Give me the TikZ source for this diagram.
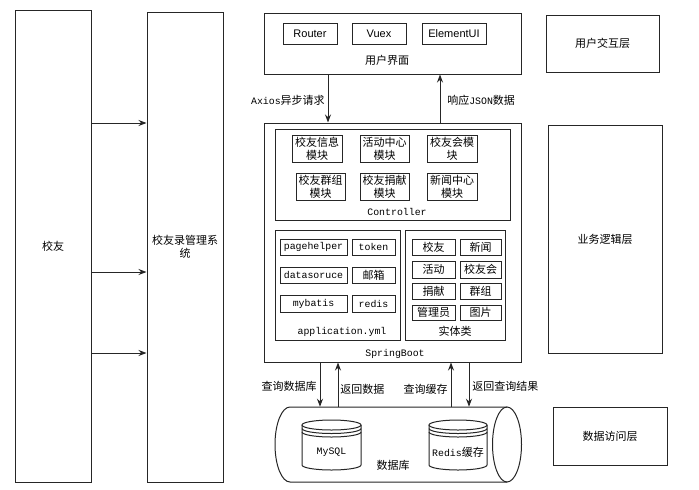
\documentclass[tikz,border=0pt]{standalone}
\usepackage{fontspec}
\setmainfont{Noto Sans CJK SC}
\newfontfamily\lsans{Liberation Sans}
\newfontfamily\monof{Liberation Mono}
\usetikzlibrary{arrows.meta}
\newcommand\fs{\fontsize{8.25}{10}\selectfont}
\newcommand\ms{\monof\fontsize{7.4}{9}\selectfont}
\newcommand\bx[7][]{\node[boxst,#1,minimum width={(#5-#3)*0.75pt},minimum height={(#6-#4)*0.75pt}] (#2) at ({(#3+#5)/2},{(#4+#6)/2}) {#7};}
\newcommand\smallcyl[3]{%
  \draw[linest] (#2-#3/2,425) -- (#2-#3/2,465) arc[start angle=180,end angle=0,x radius=#3/2,y radius=5] -- (#2+#3/2,425);
  \draw[linest] (#2,425) ellipse[x radius=#3/2,y radius=5];
  \draw[linest] (#2-#3/2,428.5) arc[start angle=180,end angle=0,x radius=#3/2,y radius=5];
  \draw[linest] (#2-#3/2,432) arc[start angle=180,end angle=0,x radius=#3/2,y radius=5];
  \node[inner sep=0pt,minimum width={#3*0.75pt},minimum height={50*0.75pt}] (#1) at (#2,446) {};
}
\tikzset{
  linest/.style={draw=black!85,line width=0.75pt},
  boxst/.style={linest,inner sep=0pt,align=center,font=\fs},
  lbl/.style={inner sep=0pt,align=center,font=\fs},
  arr/.style={linest,-{Stealth[length=6pt,width=4.5pt]}},
}
\begin{document}
\begin{tikzpicture}[x=0.75pt,y=-0.75pt]
\useasboundingbox[fill=white] (0,0) rectangle (699,489);
% left columns
\bx{alumni}{15}{10}{91}{482}{校友}
\bx{sys}{147}{12}{223}{482}{校友录管理系\\统}
\coordinate (a1) at (0,123);
\coordinate (a2) at (0,272);
\coordinate (a3) at (0,353);
\draw[arr] (alumni.east |- a1) -- (sys.west |- a1);
\draw[arr] (alumni.east |- a2) -- (sys.west |- a2);
\draw[arr] (alumni.east |- a3) -- (sys.west |- a3);
% user interface
\bx{ui}{264}{13}{521}{74}{}
\bx{router}{283}{23}{337}{44}{\lsans Router}
\bx{vuex}{352}{23}{406}{44}{\lsans Vuex}
\bx{elem}{422}{23}{486}{44}{\lsans ElementUI}
\node[lbl] (uilbl) at (387,60) {用户界面};
% springboot
\bx{sb}{264}{123}{521}{362}{}
\coordinate (x1) at (328,0);
\coordinate (x2) at (440,0);
\draw[arr] (ui.south -| x1) -- (sb.north -| x1);
\draw[arr] (sb.north -| x2) -- (ui.south -| x2);
\node[lbl,anchor=east] (axios) at (325,100) {{\ms Axios}异步请求};
\node[lbl,anchor=west] (resp) at (447,100) {响应{\ms JSON}数据};
\bx{ctrl}{275}{129}{510}{220}{}
\bx{m1}{292}{135}{342}{162}{校友信息\\模块}
\bx{m2}{360}{135}{409}{162}{活动中心\\模块}
\bx{m3}{427}{135}{477}{162}{校友会模\\块}
\bx{m4}{296}{173}{345}{200}{校友群组\\模块}
\bx{m5}{360}{173}{409}{200}{校友捐献\\模块}
\bx{m6}{427}{173}{477}{200}{新闻中心\\模块}
\node[lbl,font=\ms] (ctrllbl) at (397,212) {Controller};
\bx{cfg}{275}{230}{400}{340}{}
\bx{c1}{280}{239}{347}{255}{\ms pagehelper}
\bx{c2}{352}{239}{395}{255}{\ms token}
\bx{c3}{280}{267}{347}{283}{\ms datasoruce}
\bx{c4}{352}{267}{395}{283}{邮箱}
\bx{c5}{280}{295}{347}{312}{\ms mybatis}
\bx{c6}{352}{295}{395}{312}{\ms redis}
\node[lbl,font=\ms] (cfglbl) at (342,332) {application.yml};
\bx{ent}{405}{230}{505}{340}{}
\bx{e1}{412}{239}{455}{255}{校友}
\bx{e2}{460}{239}{501}{255}{新闻}
\bx{e3}{412}{261}{455}{278}{活动}
\bx{e4}{460}{261}{501}{278}{校友会}
\bx{e5}{412}{283}{455}{299}{捐献}
\bx{e6}{460}{283}{501}{299}{群组}
\bx{e7}{412}{305}{455}{320}{管理员}
\bx{e8}{460}{305}{501}{320}{图片}
\node[lbl] (entlbl) at (455,331) {实体类};
\node[lbl,font=\ms] (sblbl) at (395,354) {SpringBoot};
% database
\node[inner sep=0pt,minimum width={247*0.75pt},minimum height={75*0.75pt}] (db) at (398.5,444.5) {};
\draw[linest] (507,407) -- (290,407) arc[start angle=-90,end angle=-270,x radius=15,y radius=37.5] -- (507,482);
\draw[linest] (507,444.5) ellipse[x radius=14.5,y radius=37.5];
\smallcyl{mysql}{331.5}{59}
\smallcyl{redis}{458}{58}
\node[lbl,font=\ms] at (331.5,452) {MySQL};
\node[lbl] at (458,452) {{\ms Redis}缓存};
\node[lbl] (dblbl) at (393,465) {数据库};
\coordinate (y1) at (320,0);
\coordinate (y2) at (338,0);
\coordinate (y3) at (451,0);
\coordinate (y4) at (469,0);
\draw[arr] (sb.south -| y1) -- (db.north -| y1);
\draw[arr] (db.north -| y2) -- (sb.south -| y2);
\draw[arr] (db.north -| y3) -- (sb.south -| y3);
\draw[arr] (sb.south -| y4) -- (db.north -| y4);
\node[lbl,anchor=east] at (317,386) {查询数据库};
\node[lbl,anchor=west] at (340,389) {返回数据};
\node[lbl,anchor=east] at (448,389) {查询缓存};
\node[lbl,anchor=west] at (472,386) {返回查询结果};
% layers
\bx{l1}{546}{15}{659}{72}{用户交互层}
\bx{l2}{548}{125}{662}{353}{业务逻辑层}
\bx{l3}{553}{407}{667}{465}{数据访问层}
\end{tikzpicture}
\end{document}
